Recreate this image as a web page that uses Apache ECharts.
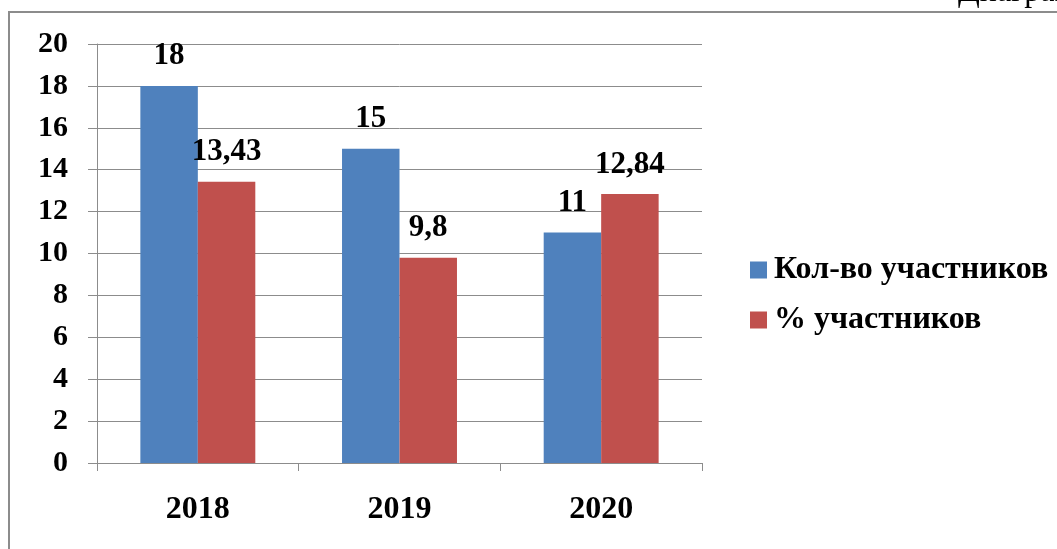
<!DOCTYPE html>
<html>
<head>
<meta charset="utf-8">
<script src="https://cdn.jsdelivr.net/npm/echarts@6/dist/echarts.min.js"></script>
<style>
html,body{margin:0;padding:0;background:#fff;}
#chart{width:1057px;height:549px;}
</style>
</head>
<body>
<div id="chart"></div>
<script>
const categories = ['2018', '2019', '2020'];
const countValues = [18, 15, 11];
const percentValues = [13.43, 9.8, 12.84];
const seriesNames = ['Кол-во участников', '% участников'];
const yTicks = { min: 0, max: 20, interval: 2 };

const FONT = '"Liberation Serif", "Times New Roman", serif';
const fmt = v => String(v).replace('.', ',');

const chart = echarts.init(document.getElementById('chart'));
chart.setOption({
  animation: false,
  backgroundColor: '#fff',
  graphic: [
    { type: 'line', shape: { x1: 8, y1: 12, x2: 1057, y2: 12 }, style: { stroke: '#8c8c8c', lineWidth: 2 } },
    { type: 'line', shape: { x1: 9, y1: 12, x2: 9, y2: 549 }, style: { stroke: '#8c8c8c', lineWidth: 2 } },
    { type: 'text', left: 958, top: -23, style: { text: 'Диаграмма', font: '32px ' + FONT, fill: '#000' } }
  ],
  grid: { left: 97, right: 355, top: 44, bottom: 86 },
  legend: {
    orient: 'vertical',
    left: 745,
    top: 249,
    itemWidth: 17,
    itemHeight: 17,
    itemGap: 18,
    icon: 'rect',
    textStyle: { fontFamily: FONT, fontWeight: 'bold', fontSize: 32, color: '#000', padding: [0, 0, 0, 2] },
    data: seriesNames
  },
  xAxis: {
    type: 'category',
    data: categories,
    axisLine: { lineStyle: { color: '#8c8c8c', width: 1 } },
    axisTick: { show: true, length: 8, lineStyle: { color: '#8c8c8c' } },
    axisLabel: { fontFamily: FONT, fontWeight: 'bold', fontSize: 32, color: '#000', margin: 31 }
  },
  yAxis: {
    type: 'value',
    min: yTicks.min, max: yTicks.max, interval: yTicks.interval,
    axisLine: { show: true, lineStyle: { color: '#8c8c8c', width: 1 } },
    axisTick: { show: true, length: 9, lineStyle: { color: '#8c8c8c' } },
    splitLine: { lineStyle: { color: '#8c8c8c', width: 1 } },
    axisLabel: { fontFamily: FONT, fontWeight: 'bold', fontSize: 30, color: '#000', margin: 29 }
  },
  series: [
    {
      name: seriesNames[0], type: 'bar', data: countValues,
      barGap: '0%', barCategoryGap: '43%',
      itemStyle: { color: '#4F81BD' },
      label: { show: true, position: 'top', distance: 14, fontFamily: FONT, fontWeight: 'bold', fontSize: 31, color: '#000', formatter: p => fmt(p.value) }
    },
    {
      name: seriesNames[1], type: 'bar', data: percentValues,
      itemStyle: { color: '#C0504D' },
      label: { show: true, position: 'top', distance: 14, fontFamily: FONT, fontWeight: 'bold', fontSize: 31, color: '#000', formatter: p => fmt(p.value) }
    }
  ]
});
</script>
</body>
</html>
